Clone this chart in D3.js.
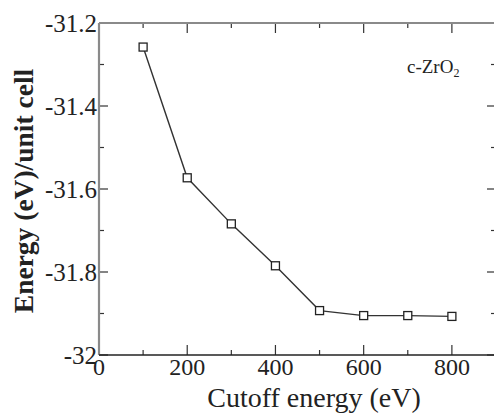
<!DOCTYPE html>
<html>
<head>
<meta charset="utf-8">
<script src="https://cdn.jsdelivr.net/npm/d3@7"></script>
<style>
  html, body { margin: 0; padding: 0; background: #fff; }
  svg { display: block; }
</style>
</head>
<body>
<svg id="chart" width="494" height="414"></svg>
<script>
// Total energy per unit cell versus plane-wave cutoff energy
const cutoff = [100, 200, 300, 400, 500, 600, 700, 800];
const energy = [-31.258, -31.573, -31.684, -31.785, -31.893, -31.905, -31.905, -31.907];
const xMajorTicks = [0, 200, 400, 600, 800];
const xMinorTicks = [100, 300, 500, 700, 900];
const yMajorTicks = [-32, -31.8, -31.6, -31.4, -31.2];
const yMinorTicks = [-31.9, -31.7, -31.5, -31.3];
const yTickLabels = ["-32", "-31.8", "-31.6", "-31.4", "-31.2"];

const svg = d3.select("#chart");
const serif = "'Liberation Serif', 'Times New Roman', Times, serif";
const pL = 99, pR = 496, pT = 23, pB = 355;

const x = d3.scaleLinear().domain([0, 900]).range([pL, pR]);
const y = d3.scaleLinear().domain([-32, -31.2]).range([pB, pT]);

const axisColor = "#333";
const spineGray = "#8a8a8a";
const textColor = "#222";

// ticks, all pointing into the plot
const g = svg.append("g");
function tickLines(vals, len, orient) {
  vals.forEach(v => {
    if (orient === "bottom") g.append("line").attr("x1", x(v)).attr("x2", x(v)).attr("y1", pB).attr("y2", pB - len);
    if (orient === "top") g.append("line").attr("x1", x(v)).attr("x2", x(v)).attr("y1", pT).attr("y2", pT + len);
    if (orient === "left") g.append("line").attr("x1", pL).attr("x2", pL + len).attr("y1", y(v)).attr("y2", y(v));
    if (orient === "right") g.append("line").attr("x1", pR).attr("x2", pR - len).attr("y1", y(v)).attr("y2", y(v));
  });
}
tickLines(xMajorTicks, 10, "bottom");
tickLines(xMinorTicks, 5, "bottom");
tickLines(xMajorTicks, 10, "top");
tickLines(xMinorTicks, 5, "top");
tickLines(yMajorTicks, 9, "left");
tickLines(yMinorTicks, 5, "left");
tickLines(yMajorTicks, 9, "right");
tickLines(yMinorTicks, 5, "right");
g.selectAll("line").attr("stroke", axisColor).attr("stroke-width", 1.2);

// frame
svg.append("line").attr("x1", pL).attr("x2", pR).attr("y1", pT).attr("y2", pT)
  .attr("stroke", spineGray).attr("stroke-width", 2.2);
svg.append("line").attr("x1", pL).attr("x2", pL).attr("y1", pT).attr("y2", pB)
  .attr("stroke", spineGray).attr("stroke-width", 2.2);
svg.append("line").attr("x1", pR).attr("x2", pR).attr("y1", pT).attr("y2", pB)
  .attr("stroke", spineGray).attr("stroke-width", 2.2);
svg.append("line").attr("x1", pL).attr("x2", pR).attr("y1", pB).attr("y2", pB)
  .attr("stroke", "#222").attr("stroke-width", 1.6);

// tick labels
svg.append("g").selectAll("text").data(xMajorTicks).join("text")
  .attr("x", d => x(d)).attr("y", pB + 20)
  .attr("text-anchor", "middle").attr("font-size", 24)
  .attr("font-family", serif).attr("fill", textColor)
  .text(d => d);
svg.append("g").selectAll("text").data(yMajorTicks).join("text")
  .attr("x", pL - 2).attr("y", d => y(d) + 9)
  .attr("text-anchor", "end").attr("font-size", 25)
  .attr("font-family", serif).attr("fill", textColor)
  .text((d, i) => yTickLabels[i]);

// axis titles
svg.append("text").attr("x", 314).attr("y", 407)
  .attr("text-anchor", "middle").attr("font-size", 28)
  .attr("font-family", serif).attr("fill", textColor)
  .text("Cutoff energy (eV)");
svg.append("text")
  .attr("transform", "translate(33, 191) rotate(-90)")
  .attr("text-anchor", "middle").attr("font-size", 27.5).attr("font-weight", "bold")
  .attr("font-family", serif).attr("fill", textColor)
  .text("Energy (eV)/unit cell");

// phase label
const lab = svg.append("text").attr("x", 407).attr("y", 73).attr("font-size", 19)
  .attr("font-family", serif).attr("fill", textColor);
lab.append("tspan").text("c-ZrO");
lab.append("tspan").attr("font-size", 12).attr("dy", 4).text("2");

// data line and open square markers
const pts = cutoff.map((c, i) => [c, energy[i]]);
svg.append("path").datum(pts)
  .attr("d", d3.line().x(d => x(d[0])).y(d => y(d[1])))
  .attr("fill", "none").attr("stroke", "#333").attr("stroke-width", 1.4);
const s = 8;
svg.append("g").selectAll("rect").data(pts).join("rect")
  .attr("x", d => x(d[0]) - s / 2).attr("y", d => y(d[1]) - s / 2)
  .attr("width", s).attr("height", s)
  .attr("fill", "#fff").attr("stroke", "#222").attr("stroke-width", 1.3);
</script>
</body>
</html>
